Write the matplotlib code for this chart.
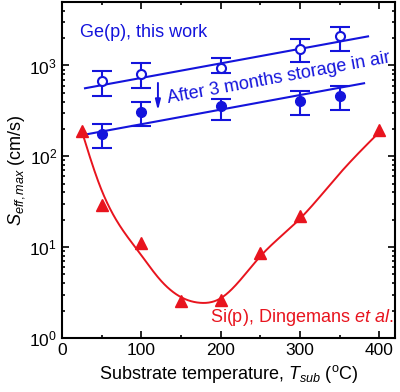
import numpy as np
import matplotlib
matplotlib.use("Agg")
import matplotlib.pyplot as plt
from matplotlib.ticker import LogLocator, MultipleLocator, NullFormatter

plt.rcParams['font.family'] = ['Liberation Sans', 'DejaVu Sans']
plt.rcParams['mathtext.fontset'] = 'custom'
plt.rcParams['mathtext.rm'] = 'Liberation Sans'
plt.rcParams['mathtext.it'] = 'Liberation Sans:italic'
plt.rcParams['mathtext.bf'] = 'Liberation Sans:bold'

# ---- data ----
ge_x = [50, 100, 200, 300, 350]
ge_fresh = [670, 800, 940, 1510, 2100]
ge_fresh_lo = [460, 560, 820, 1090, 1440]
ge_fresh_hi = [865, 1060, 1215, 1950, 2650]
ge_aged = [174, 305, 355, 403, 458]
ge_aged_lo = [122, 213, 249, 282, 321]
ge_aged_hi = [224, 393, 424, 520, 591]

fit_fresh_x = [29, 386]
fit_fresh_y = [561, 2090]
fit_aged_x = [30, 381]
fit_aged_y = [174, 637]

si_x = [25, 50, 100, 150, 200, 250, 300, 400]
si_y = [189, 29.3, 11.0, 2.55, 2.65, 8.6, 21.8, 193]

si_curve_x = [25, 48, 98, 124, 149, 174, 199, 250, 300, 351, 399]
si_curve_y = [189, 46.8, 8.6, 4.35, 2.85, 2.44, 2.7, 7.9, 20.5, 65.8, 180]

blue = '#1414dc'
red = '#e8141e'


def natural_spline(x, y, xs):
    x = np.asarray(x, float)
    y = np.asarray(y, float)
    n = len(x)
    h = np.diff(x)
    A = np.zeros((n, n))
    r = np.zeros(n)
    A[0, 0] = 1
    A[-1, -1] = 1
    for i in range(1, n - 1):
        A[i, i - 1] = h[i - 1]
        A[i, i] = 2 * (h[i - 1] + h[i])
        A[i, i + 1] = h[i]
        r[i] = 6 * ((y[i + 1] - y[i]) / h[i] - (y[i] - y[i - 1]) / h[i - 1])
    M = np.linalg.solve(A, r)
    idx = np.clip(np.searchsorted(x, xs) - 1, 0, n - 2)
    xi, xj = x[idx], x[idx + 1]
    hi = h[idx]
    return (M[idx] * (xj - xs) ** 3 / (6 * hi) + M[idx + 1] * (xs - xi) ** 3 / (6 * hi)
            + (y[idx] / hi - M[idx] * hi / 6) * (xj - xs)
            + (y[idx + 1] / hi - M[idx + 1] * hi / 6) * (xs - xi))


fig = plt.figure(figsize=(4.0, 3.92), dpi=100)
ax = fig.add_axes([0.155, 0.1378, 0.8325, 0.8572])
ax.set_yscale('log')

# Si curve: smooth guide through read points (spline in log space)
xs = np.linspace(si_curve_x[0], si_curve_x[-1], 400)
ax.plot(xs, 10 ** natural_spline(si_curve_x, np.log10(si_curve_y), xs), color=red, lw=1.4, zorder=2)
ax.plot(si_x, si_y, linestyle='none', marker='^', ms=9, color=red, zorder=3)

# Ge fit lines (straight in log-linear space)
fx = np.linspace(fit_fresh_x[0], fit_fresh_x[1], 50)
ax.plot(fx, 10 ** np.interp(fx, fit_fresh_x, np.log10(fit_fresh_y)), color=blue, lw=1.5)
ax_x = np.linspace(fit_aged_x[0], fit_aged_x[1], 50)
ax.plot(ax_x, 10 ** np.interp(ax_x, fit_aged_x, np.log10(fit_aged_y)), color=blue, lw=1.5)

# Ge data with error bars
f_err = [np.array(ge_fresh) - np.array(ge_fresh_lo), np.array(ge_fresh_hi) - np.array(ge_fresh)]
a_err = [np.array(ge_aged) - np.array(ge_aged_lo), np.array(ge_aged_hi) - np.array(ge_aged)]
ax.errorbar(ge_x, ge_fresh, yerr=f_err, fmt='o', ms=6.5, mfc='white', mec=blue, mew=1.5,
            ecolor=blue, elinewidth=1.5, capsize=7, capthick=1.5, zorder=4)
ax.errorbar(ge_x, ge_aged, yerr=a_err, fmt='o', ms=7, mfc=blue, mec=blue,
            ecolor=blue, elinewidth=1.5, capsize=7, capthick=1.5, zorder=4)

ax.set_xlim(0, 420)
ax.set_ylim(1, 5000)

ax.xaxis.set_major_locator(MultipleLocator(100))
ax.xaxis.set_minor_locator(MultipleLocator(50))
ax.yaxis.set_major_locator(LogLocator(base=10, numticks=10))
ax.yaxis.set_minor_locator(LogLocator(base=10, subs=np.arange(2, 10), numticks=20))
ax.yaxis.set_minor_formatter(NullFormatter())
ax.tick_params(which='both', direction='in', top=True, right=True, width=1.2, labelsize=12.5)
ax.tick_params(which='major', length=5)
ax.tick_params(which='minor', length=2.5)
for s in ax.spines.values():
    s.set_linewidth(1.5)

ax.set_xlabel('Substrate temperature, $\\mathit{T}_{\\mathit{sub}}$ ($^{\\mathrm{o}}$C)', fontsize=13, labelpad=4)
ax.set_ylabel('$\\mathit{S}_{\\mathit{eff,max}}$ (cm/s)', fontsize=13, labelpad=2)

ax.text(0.054, 0.908, 'Ge(p), this work', transform=ax.transAxes, color=blue,
        fontsize=13, ha='left', va='center')
ax.text(0.994, 0.06, 'Si(p), Dingemans $\\mathit{et\\ al.}$', transform=ax.transAxes, color=red,
        fontsize=13, ha='right', va='center')
ax.text(274, 640, 'After 3 months storage in air', color=blue, fontsize=13,
        rotation=10.4, rotation_mode='anchor', ha='center', va='baseline')
ax.annotate('', xy=(121, 297), xytext=(121, 689),
            arrowprops=dict(arrowstyle='-|>,head_width=0.15,head_length=0.6', color=blue, lw=1.4))

fig.savefig('out.png', dpi=100)
